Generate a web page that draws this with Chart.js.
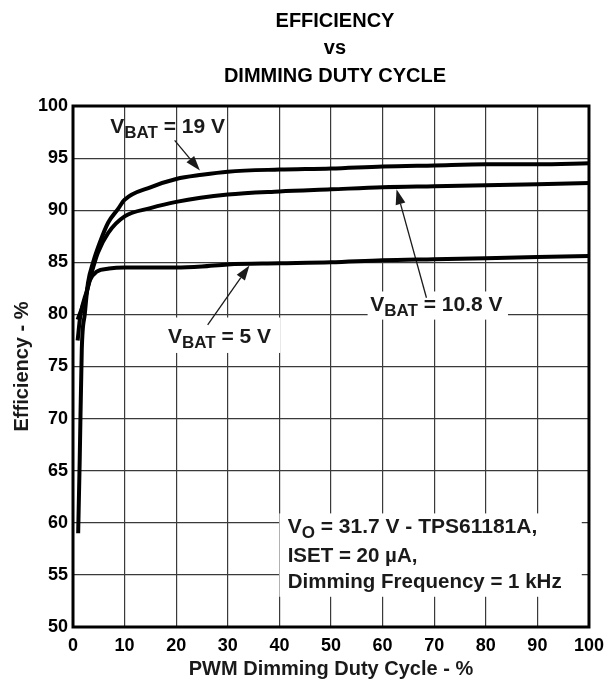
<!DOCTYPE html>
<html>
<head>
<meta charset="utf-8">
<script src="https://cdn.jsdelivr.net/npm/chart.js@4"></script>
<style>
  html, body { margin: 0; padding: 0; background: #fff; }
  #wrap { width: 612px; height: 681px; }
</style>
</head>
<body>
<div id="wrap"><canvas id="effChart" width="612" height="681"></canvas></div>
<script>
// duty cycle (%) and efficiency (%)
const duty19 = [1, 1.3, 1.7, 2.3, 2.9, 3.9, 5.2, 6.8, 8.7, 10, 15, 20, 25, 30, 40, 50, 60, 70, 80, 90, 100];
const eff19 = [59, 66, 76.6, 80.1, 83.0, 85.0, 86.9, 88.8, 90.1, 91.0, 92.2, 93.0, 93.4, 93.7, 93.9, 94.0, 94.2, 94.3, 94.4, 94.4, 94.5];

const duty108 = [0.9, 1.4, 2.7, 3.9, 4.8, 6.8, 10, 15, 20, 30, 40, 50, 60, 70, 80, 90, 100];
const eff108 = [77.5, 79.8, 82.3, 84.5, 85.9, 87.8, 89.4, 90.2, 90.8, 91.5, 91.8, 92.0, 92.2, 92.3, 92.4, 92.5, 92.6];

const duty5 = [0.9, 2.3, 3.3, 4.6, 7, 10, 15, 20, 25, 30, 40, 50, 60, 70, 80, 90, 100];
const eff5 = [79.5, 81.4, 83.3, 84.1, 84.4, 84.5, 84.5, 84.5, 84.6, 84.8, 84.9, 85.0, 85.2, 85.3, 85.4, 85.5, 85.6];

const xTicks = [0, 10, 20, 30, 40, 50, 60, 70, 80, 90, 100];
const yTicks = [50, 55, 60, 65, 70, 75, 80, 85, 90, 95, 100];

const titleLines = ["EFFICIENCY", "vs", "DIMMING DUTY CYCLE"];
const noteLines = ["= 31.7 V - TPS61181A,", "ISET = 20 \u00b5A,", "Dimming Frequency = 1 kHz"];

const FONT = "Liberation Sans, Arial, sans-serif";

function pts(xs, ys) {
  return xs.map((x, i) => ({ x: x, y: ys[i] }));
}

function drawV(ctx, x, y, sub, rest) {
  ctx.textBaseline = "middle";
  ctx.textAlign = "left";
  ctx.font = "bold 21px " + FONT;
  ctx.fillText("V", x, y);
  let w = ctx.measureText("V").width;
  ctx.font = "bold 17px " + FONT;
  ctx.fillText(sub, x + w, y + 6);
  w += ctx.measureText(sub).width;
  ctx.font = "bold 21px " + FONT;
  ctx.fillText(rest, x + w, y);
  return w + ctx.measureText(rest).width;
}

function arrow(ctx, x1, y1, x2, y2) {
  const a = Math.atan2(y2 - y1, x2 - x1);
  const len = 15, half = 5;
  ctx.beginPath();
  ctx.moveTo(x1, y1);
  ctx.lineTo(x2 - len * Math.cos(a), y2 - len * Math.sin(a));
  ctx.lineWidth = 1.3;
  ctx.stroke();
  ctx.beginPath();
  ctx.moveTo(x2, y2);
  ctx.lineTo(x2 - len * Math.cos(a) + half * Math.sin(a), y2 - len * Math.sin(a) - half * Math.cos(a));
  ctx.lineTo(x2 - len * Math.cos(a) - half * Math.sin(a), y2 - len * Math.sin(a) + half * Math.cos(a));
  ctx.closePath();
  ctx.fill();
}

const labelsPlugin = {
  id: "labels",
  beforeDatasetsDraw(chart) {
    const ctx = chart.ctx;
    const xs = chart.scales.x, ys = chart.scales.y;
    const px = v => xs.getPixelForValue(v);
    const py = v => ys.getPixelForValue(v);
    ctx.save();
    ctx.fillStyle = "#fff";
    // white patches behind the labels
    ctx.fillRect(px(57.1), py(82.2), px(84.3) - px(57.1), py(79.5) - py(82.2));
    ctx.fillRect(px(17.5), py(79.7), px(40.2) - px(17.5), py(76.3) - py(79.7));
    ctx.fillRect(px(40), py(60.9), px(98.6) - px(40), py(52.9) - py(60.9));

    ctx.fillStyle = "#1a1a1a";
    ctx.strokeStyle = "#1a1a1a";
    drawV(ctx, px(7.2), py(98.0), "BAT", " = 19 V");
    arrow(ctx, px(19.7), py(96.7), px(24.6), py(93.8));

    drawV(ctx, px(57.6), py(80.9), "BAT", " = 10.8 V");
    arrow(ctx, px(68.5), py(81.6), px(62.7), py(92.0));

    drawV(ctx, px(18.4), py(77.8), "BAT", " = 5 V");
    arrow(ctx, px(26.1), py(79.0), px(34.2), py(84.7));

    const tx = px(41.6);
    drawV(ctx, tx, py(59.6), "O", " " + noteLines[0]);
    ctx.font = "bold 20.5px " + FONT;
    ctx.fillText(noteLines[1], tx, py(56.8));
    ctx.fillText(noteLines[2], tx, py(54.3));
    ctx.restore();
  },
  afterDraw(chart) {
    const ctx = chart.ctx;
    const a = chart.chartArea;
    ctx.save();
    ctx.strokeStyle = "#000";
    ctx.lineWidth = 3;
    ctx.strokeRect(a.left, a.top, a.right - a.left, a.bottom - a.top);
    ctx.fillStyle = "#000";
    ctx.font = "bold 20px " + FONT;
    ctx.textAlign = "center";
    ctx.textBaseline = "middle";
    const cx = (a.left + a.right) / 2 + 4;
    titleLines.forEach((t, i) => ctx.fillText(t, cx, 21 + i * 27.5));
    ctx.restore();
  }
};

const lineStyle = {
  borderColor: "#000",
  borderWidth: 4,
  pointRadius: 0,
  fill: false,
  cubicInterpolationMode: "monotone"
};

new Chart(document.getElementById("effChart"), {
  type: "line",
  data: {
    datasets: [
      Object.assign({ label: "VBAT = 19 V", data: pts(duty19, eff19) }, lineStyle),
      Object.assign({ label: "VBAT = 10.8 V", data: pts(duty108, eff108) }, lineStyle),
      Object.assign({ label: "VBAT = 5 V", data: pts(duty5, eff5) }, lineStyle)
    ]
  },
  options: {
    responsive: false,
    animation: false,
    layout: { padding: { top: 106, right: 22, left: 0, bottom: 0 } },
    plugins: {
      legend: { display: false },
      title: { display: false },
      tooltip: { enabled: false }
    },
    scales: {
      x: {
        type: "linear",
        min: 0,
        max: 100,
        afterBuildTicks: s => { s.ticks = xTicks.map(v => ({ value: v })); },
        afterFit: s => { s.height = 54; },
        grid: { color: "#3a3a3a", lineWidth: 1.2, drawTicks: false },
        border: { display: false },
        ticks: { color: "#000", padding: 8, maxRotation: 0, font: { family: FONT, size: 18, weight: "bold" } },
        title: {
          display: true,
          text: "PWM Dimming Duty Cycle - %",
          color: "#1a1a1a",
          padding: { top: 1, bottom: 0 },
          font: { family: FONT, size: 20, weight: "bold" }
        }
      },
      y: {
        min: 50,
        max: 100,
        afterBuildTicks: s => { s.ticks = yTicks.map(v => ({ value: v })); },
        afterFit: s => { s.width = 73; },
        grid: { color: "#3a3a3a", lineWidth: 1.2, drawTicks: false },
        border: { display: false },
        ticks: { color: "#000", padding: 5, font: { family: FONT, size: 18, weight: "bold" } },
        title: {
          display: true,
          text: "Efficiency - %",
          color: "#1a1a1a",
          padding: { top: 10, bottom: 0 },
          font: { family: FONT, size: 20, weight: "bold" }
        }
      }
    }
  },
  plugins: [labelsPlugin]
});
</script>
</body>
</html>
